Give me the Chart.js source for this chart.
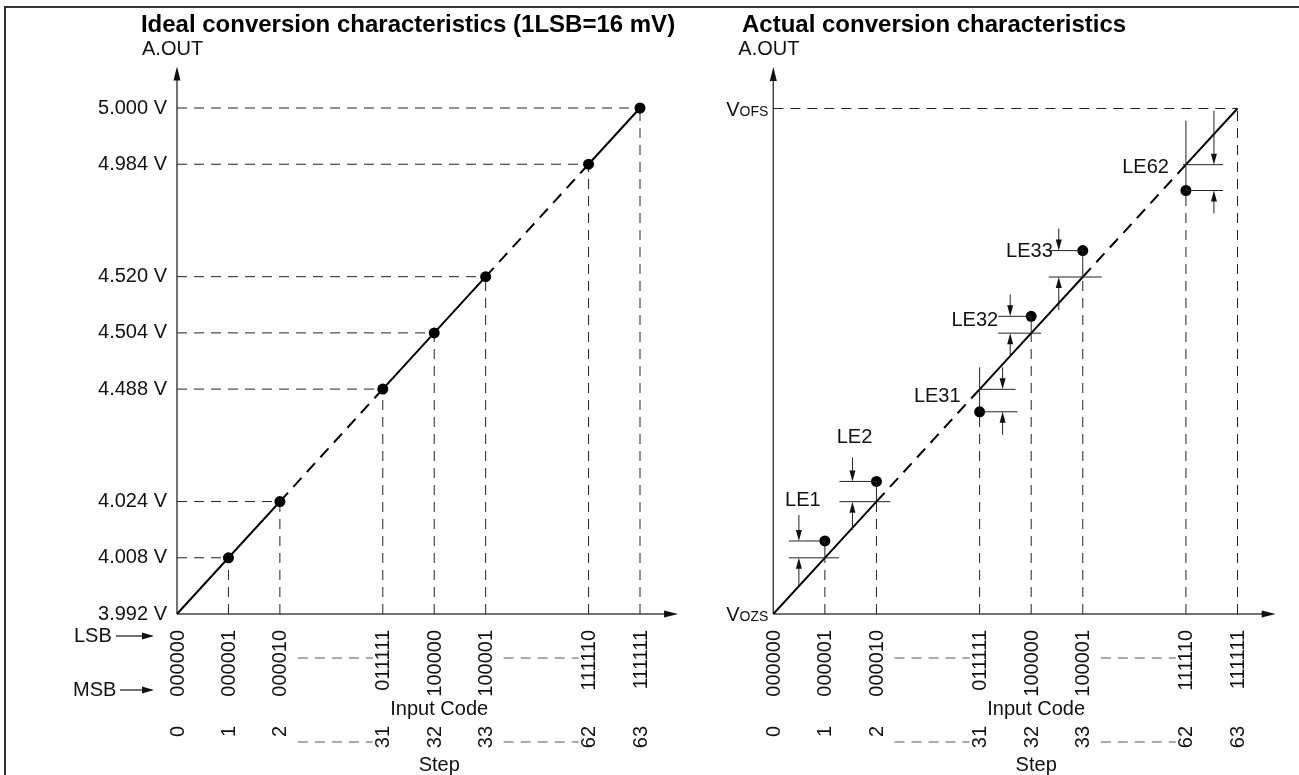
<!DOCTYPE html>
<html>
<head>
<meta charset="utf-8">
<script src="https://cdn.jsdelivr.net/npm/chart.js@4"></script>
<style>
body { margin: 0; background: #fff; }
#wrap { position: relative; width: 1299px; height: 775px; overflow: hidden; background: #fff; }
#wrap canvas { position: absolute; top: 0; }
.frame { position: absolute; background: #333; }
</style>
</head>
<body>
<div id="wrap">
  <canvas id="idealChart" width="700" height="775" style="left:0"></canvas>
  <canvas id="actualChart" width="699" height="775" style="left:600px"></canvas>
  <div class="frame" style="left:4px;top:6px;width:1295px;height:2px"></div>
  <div class="frame" style="left:4px;top:6px;width:2px;height:769px"></div>
</div>
<script>
// data
const steps = [0, 1, 2, 31, 32, 33, 62, 63];
const codes = ['000000', '000001', '000010', '011111', '100000', '100001', '111110', '111111'];
const voltages = [3.992, 4.008, 4.024, 4.488, 4.504, 4.520, 4.984, 5.000];
const lsbVolts = 0.016;
const leSteps = [1, 2, 31, 32, 33, 62];
const leErrors = [0.30, 0.36, -0.40, 0.30, 0.47, -0.46]; // linearity error, in LSB
const leNames = ['LE1', 'LE2', 'LE31', 'LE32', 'LE33', 'LE62'];

const FONT = "'Liberation Sans', Arial, sans-serif";
const AXIS_END = 9.74;

// broken axis: steps 3..30 and 34..61 are skipped
function stepAxis(s) { return s < 16 ? s : s < 47 ? s - 27 : s - 54; }
function voltAxis(v) { return stepAxis((v - voltages[0]) / lsbVolts); }

// callout layout for the LE marks (pixels, relative to the tick)
const leLayout = [
  { arrowDx: -26, dotLine: [-36, 0], idealLine: [-36, 14], tailTop: 26, tailBottom: 28, stemTop: 0, label: { dx: -22, dy: -40, ref: 'dot', align: 'center' } },
  { arrowDx: -24, dotLine: [-37, 0], idealLine: [-37, 14], tailTop: 24, tailBottom: 28, stemTop: 0, label: { dx: -22, dy: -44, ref: 'dot', align: 'center' } },
  { arrowDx: 23, dotLine: [0, 38], idealLine: [0, 36], tailTop: 22, tailBottom: 23, stemTop: 22, label: { dx: -19, dy: 7, ref: 'ideal', align: 'right' } },
  { arrowDx: -21, dotLine: [-33, 0], idealLine: [-33, 10], tailTop: 22, tailBottom: 22, stemTop: 0, label: { dx: -33, dy: 4, ref: 'dot', align: 'right' } },
  { arrowDx: -24, dotLine: [-34, 0], idealLine: [-34, 19], tailTop: 22, tailBottom: 33, stemTop: 0, label: { dx: -30, dy: 1, ref: 'dot', align: 'right' } },
  { arrowDx: 28, dotLine: [0, 37], idealLine: [-3, 37], tailTop: 54, tailBottom: 23, stemTop: 44, label: { dx: -17, dy: 3, ref: 'ideal', align: 'right' } }
];

function arrowHead(ctx, x, y, dx, dy, len, hw) {
  ctx.beginPath();
  ctx.moveTo(x, y);
  ctx.lineTo(x - dx * len - dy * hw, y - dy * len + dx * hw);
  ctx.lineTo(x - dx * len + dy * hw, y - dy * len - dx * hw);
  ctx.closePath();
  ctx.fill();
}

function arrowLine(ctx, x1, y1, x2, y2, len, hw) {
  const d = Math.hypot(x2 - x1, y2 - y1);
  const ux = (x2 - x1) / d, uy = (y2 - y1) / d;
  ctx.beginPath();
  ctx.moveTo(x1, y1);
  ctx.lineTo(x2 - ux * len * 0.6, y2 - uy * len * 0.6);
  ctx.stroke();
  arrowHead(ctx, x2, y2, ux, uy, len, hw);
}

function line(ctx, x1, y1, x2, y2) {
  ctx.beginPath();
  ctx.moveTo(x1, y1);
  ctx.lineTo(x2, y2);
  ctx.stroke();
}

function guide(points) {
  return {
    data: points, showLine: true, borderColor: '#222', borderWidth: 1,
    borderDash: [10, 7], pointRadius: 0, clip: false, order: 3
  };
}

function idealLine(points) {
  return {
    data: points, showLine: true, borderColor: '#000', borderWidth: 2, pointRadius: 0,
    clip: false, order: 1,
    segment: { borderDash: c => (steps[c.p1DataIndex] - steps[c.p0DataIndex] > 1 ? [12, 8] : undefined) }
  };
}

function dots(points) {
  return { data: points, showLine: false, pointRadius: 5.5, pointBackgroundColor: '#000', pointBorderWidth: 0, clip: false, order: 0 };
}

// axes, codes and step numbers shared by both charts
function drawAxes(chart) {
  const { ctx, scales: { x, y } } = chart;
  const x0 = x.getPixelForValue(0), y0 = y.getPixelForValue(0);
  ctx.save();
  ctx.strokeStyle = '#444';
  ctx.fillStyle = '#111';
  ctx.lineWidth = 1.5;
  arrowLine(ctx, x0, y0, x0, y.getPixelForValue(AXIS_END), 14, 3.5);
  arrowLine(ctx, x0, y0, x.getPixelForValue(AXIS_END), y0, 14, 3.5);
  ctx.restore();
}

function drawBottom(chart) {
  const { ctx, scales: { x } } = chart;
  ctx.save();
  ctx.fillStyle = '#111';
  ctx.font = '20px ' + FONT;
  steps.forEach((s, i) => {
    const px = x.getPixelForValue(stepAxis(s));
    ctx.save();
    ctx.translate(px + 1, 630);
    ctx.rotate(-Math.PI / 2);
    ctx.textAlign = 'right';
    ctx.textBaseline = 'middle';
    ctx.fillText(codes[i], 0, 0);
    ctx.restore();
    ctx.save();
    ctx.translate(px + 1, 726);
    ctx.rotate(-Math.PI / 2);
    ctx.textAlign = 'right';
    ctx.textBaseline = 'middle';
    ctx.fillText(String(s), 0, 0);
    ctx.restore();
  });
  // skipped ranges
  ctx.strokeStyle = '#555';
  ctx.lineWidth = 1;
  ctx.setLineDash([10, 7]);
  for (let i = 0; i < steps.length - 1; i++) {
    if (steps[i + 1] - steps[i] > 1) {
      const a = x.getPixelForValue(stepAxis(steps[i])) + 18;
      const b = x.getPixelForValue(stepAxis(steps[i + 1])) - 10;
      line(ctx, a, 658, b, 658);
      line(ctx, a, 742, b, 742);
    }
  }
  ctx.setLineDash([]);
  const cx = x.getPixelForValue(stepAxis(32)) + 5;
  ctx.textAlign = 'center';
  ctx.textBaseline = 'middle';
  ctx.fillText('Input Code', cx, 709);
  ctx.fillText('Step', cx, 765);
  ctx.restore();
}

function drawHeader(chart, title, left, centered) {
  const ctx = chart.ctx;
  ctx.save();
  ctx.fillStyle = '#000';
  ctx.textBaseline = 'middle';
  ctx.font = 'bold 24px ' + FONT;
  ctx.textAlign = centered ? 'center' : 'left';
  ctx.fillText(title, centered ? 408 : left, 25);
  ctx.font = '20px ' + FONT;
  ctx.textAlign = 'left';
  ctx.fillStyle = '#111';
  ctx.fillText('A.OUT', chart.scales.x.getPixelForValue(0) - 35, 49);
  ctx.restore();
}

function baseOptions(padding) {
  return {
    responsive: false,
    animation: false,
    events: [],
    layout: { padding },
    plugins: { legend: { display: false }, tooltip: { enabled: false } },
    scales: {
      x: { type: 'linear', min: 0, max: 9, display: false },
      y: { type: 'linear', min: 0, max: 9, display: false }
    }
  };
}

// ---------- ideal chart ----------
const idealPts = steps.map((s, i) => ({ x: stepAxis(s), y: voltAxis(voltages[i]) }));
const idealGuides = [];
idealPts.slice(1).forEach(p => {
  idealGuides.push(guide([{ x: 0, y: p.y }, { x: p.x, y: p.y }]));
  idealGuides.push(guide([{ x: p.x, y: 0 }, { x: p.x, y: p.y }]));
});

const idealDecor = {
  id: 'idealDecor',
  beforeDatasetsDraw(chart) { drawAxes(chart); },
  afterDraw(chart) {
    const { ctx, scales: { x, y } } = chart;
    drawHeader(chart, 'Ideal conversion characteristics (1LSB=16 mV)', 0, true);
    ctx.save();
    ctx.font = '20px ' + FONT;
    ctx.fillStyle = '#111';
    ctx.textAlign = 'right';
    ctx.textBaseline = 'middle';
    voltages.forEach(v => ctx.fillText(v.toFixed(3) + ' V', x.getPixelForValue(0) - 10, y.getPixelForValue(voltAxis(v))));
    ctx.textAlign = 'left';
    ctx.fillText('LSB', 74, 636);
    ctx.fillText('MSB', 73, 690);
    ctx.strokeStyle = '#111';
    ctx.lineWidth = 1.2;
    arrowLine(ctx, 116, 636, 154, 636, 12, 3.5);
    arrowLine(ctx, 120, 690, 154, 690, 12, 3.5);
    ctx.restore();
    drawBottom(chart);
  }
};

new Chart(document.getElementById('idealChart'), {
  type: 'scatter',
  data: { datasets: [dots(idealPts.slice(1)), idealLine(idealPts), ...idealGuides] },
  options: baseOptions({ left: 177, right: 60, top: 108, bottom: 161 }),
  plugins: [idealDecor]
});

// ---------- actual chart ----------
const actualIdeal = steps.map(s => ({ x: stepAxis(s), y: stepAxis(s) }));
const actualPts = leSteps.map((s, i) => ({ x: stepAxis(s), y: stepAxis(s) + leErrors[i] }));
const actualGuides = [guide([{ x: 0, y: stepAxis(63) }, { x: stepAxis(63), y: stepAxis(63) }])];
steps.slice(1).forEach(s => {
  const k = leSteps.indexOf(s);
  const low = k < 0 ? stepAxis(s) : Math.min(stepAxis(s), stepAxis(s) + leErrors[k]);
  actualGuides.push(guide([{ x: stepAxis(s), y: 0 }, { x: stepAxis(s), y: low }]));
});

const actualDecor = {
  id: 'actualDecor',
  beforeDatasetsDraw(chart) { drawAxes(chart); },
  afterDraw(chart) {
    const { ctx, scales: { x, y } } = chart;
    drawHeader(chart, 'Actual conversion characteristics', 142, false);
    const ax = x.getPixelForValue(0);
    ctx.save();
    ctx.fillStyle = '#111';
    ctx.textAlign = 'right';
    ctx.textBaseline = 'alphabetic';
    [['OFS', y.getPixelForValue(stepAxis(63))], ['OZS', y.getPixelForValue(0)]].forEach(([sub, py]) => {
      ctx.font = '14px ' + FONT;
      ctx.fillText(sub, ax - 5, py + 7);
      const w = ctx.measureText(sub).width;
      ctx.font = '20px ' + FONT;
      ctx.fillText('V', ax - 5 - w, py + 7);
    });
    // LE callouts
    ctx.strokeStyle = '#222';
    ctx.fillStyle = '#111';
    ctx.lineWidth = 1;
    leSteps.forEach((s, i) => {
      const L = leLayout[i];
      const px = x.getPixelForValue(stepAxis(s));
      const yi = y.getPixelForValue(stepAxis(s));
      const yd = y.getPixelForValue(stepAxis(s) + leErrors[i]);
      const top = Math.min(yi, yd), bot = Math.max(yi, yd);
      line(ctx, px + L.dotLine[0], yd, px + L.dotLine[1], yd);
      line(ctx, px + L.idealLine[0], yi, px + L.idealLine[1], yi);
      line(ctx, px, bot, px, top - L.stemTop);
      const axp = px + L.arrowDx;
      arrowLine(ctx, axp, top - L.tailTop, axp, top, 11, 3);
      arrowLine(ctx, axp, bot + L.tailBottom, axp, bot, 11, 3);
      ctx.font = '20px ' + FONT;
      ctx.textAlign = L.label.align;
      ctx.textBaseline = 'middle';
      ctx.fillText(leNames[i], px + L.label.dx, (L.label.ref === 'dot' ? yd : yi) + L.label.dy);
    });
    ctx.restore();
    drawBottom(chart);
  }
};

new Chart(document.getElementById('actualChart'), {
  type: 'scatter',
  data: { datasets: [dots(actualPts), idealLine(actualIdeal), ...actualGuides] },
  options: baseOptions({ left: 173.3, right: 61.5, top: 108.5, bottom: 161 }),
  plugins: [actualDecor]
});
</script>
</body>
</html>
